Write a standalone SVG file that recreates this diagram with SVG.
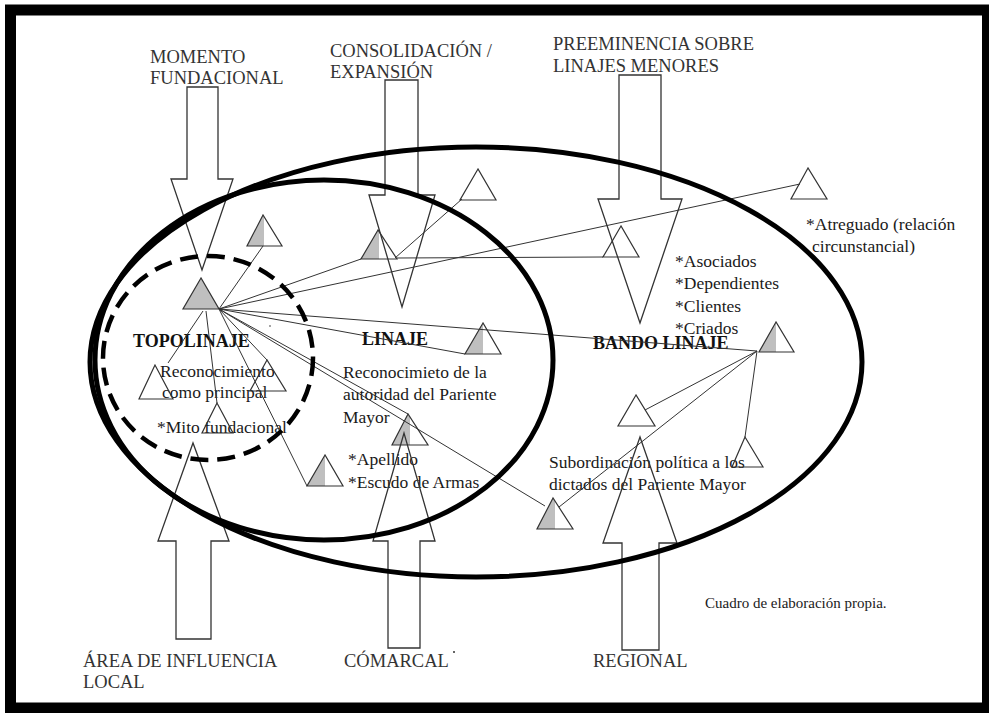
<svg xmlns="http://www.w3.org/2000/svg" width="989" height="713" viewBox="0 0 989 713">
<defs>
<style>
text{font-family:'Liberation Serif','DejaVu Serif',serif}
.lbl{font-size:18.5px;fill:#333}
.txt{font-size:17.5px;fill:#1a1a1a}
.b{font-weight:bold;fill:#111;font-size:18px}
.small{font-size:15px}
.arrow{fill:none;stroke:#333;stroke-width:1.3}
.tri{stroke:#333;stroke-width:1.2;fill:none}
.half{fill:url(#halfgray)}
.full{fill:#bfbfbf}
.ell{fill:none;stroke:#000;stroke-width:5}
.dash{stroke-dasharray:18 9;stroke-width:4.5}
#connectors line{stroke:#333;stroke-width:1}
</style>
<linearGradient id="halfgray" x1="0" y1="0" x2="1" y2="0">
<stop offset="0" stop-color="#bfbfbf"/>
<stop offset="0.5" stop-color="#bfbfbf"/>
<stop offset="0.5" stop-color="#fff" stop-opacity="0"/>
<stop offset="1" stop-color="#fff" stop-opacity="0"/>
</linearGradient>
</defs>
<rect x="0" y="0" width="989" height="713" fill="#fff"/>
<rect id="frame" x="10.5" y="10" width="977" height="698" fill="none" stroke="#000" stroke-width="11"/>

<g id="labels" font-family="Liberation Serif, serif">
<text class="lbl" x="150" y="63">MOMENTO</text>
<text class="lbl" x="150" y="84">FUNDACIONAL</text>
<text class="lbl" x="330" y="57">CONSOLIDACIÓN /</text>
<text class="lbl" x="330" y="78">EXPANSIÓN</text>
<text class="lbl" x="553" y="50">PREEMINENCIA SOBRE</text>
<text class="lbl" x="553" y="72">LINAJES MENORES</text>
<text class="lbl" x="83" y="667">ÁREA DE INFLUENCIA</text>
<text class="lbl" x="83" y="688">LOCAL</text>
<text class="lbl" x="344" y="667">CÓMARCAL</text>
<circle cx="454" cy="652" r="1" fill="#333"/>
<text class="lbl" x="593" y="667">REGIONAL</text>
<text class="txt small" x="705" y="608">Cuadro de elaboración propia.</text>
</g>

<g id="topolinaje-text" font-family="Liberation Serif, serif">
<text class="txt b" x="133" y="347">TOPOLINAJE</text>
<text class="txt" x="160" y="377">Reconocimiento</text>
<text class="txt" x="162" y="398">como principal</text>
<text class="txt" x="157" y="433">*Mito fundacional</text>
<circle cx="270" cy="326" r="0.8" fill="#333"/>
</g>
<g id="linaje-text" font-family="Liberation Serif, serif">
<text class="txt b" x="362" y="345">LINAJE</text>
<text class="txt" x="343" y="378">Reconocimieto de la</text>
<text class="txt" x="343" y="400">autoridad del Pariente</text>
<text class="txt" x="343" y="423">Mayor</text>
<text class="txt" x="348" y="465">*Apellido</text>
<text class="txt" x="348" y="488">*Escudo de Armas</text>
</g>
<g id="bando-text" font-family="Liberation Serif, serif">
<text class="txt b" x="593" y="349">BANDO LINAJE</text>
<text class="txt" x="675" y="267">*Asociados</text>
<text class="txt" x="675" y="289">*Dependientes</text>
<text class="txt" x="675" y="312">*Clientes</text>
<text class="txt" x="675" y="334">*Criados</text>
<text class="txt" x="806" y="230">*Atreguado (relación</text>
<text class="txt" x="812" y="252">circunstancial)</text>
<text class="txt" x="549" y="468">Subordinación política a los</text>
<text class="txt" x="549" y="490">dictados del Pariente Mayor</text>
</g>

<g id="triangles">
<polygon id="t1" class="tri full" points="201,278 183,309 219,309"/>
<polygon id="t2" class="tri half" points="263,215 247,246 282,246"/>
<polygon id="t3" class="tri half" points="378,230 361,259 397,259"/>
<polygon id="t4" class="tri" points="478,169 460,200 496,200"/>
<polygon id="t5" class="tri" points="621,226 603,257 639,257"/>
<polygon id="t6" class="tri" points="808,168 791,199 827,199"/>
<polygon id="t7" class="tri half" points="483,323 465,354 501,354"/>
<polygon id="t8" class="tri half" points="776,322 759,352 794,352"/>
<polygon id="t9" class="tri" points="636,395 618,426 655,426"/>
<polygon id="t10" class="tri" points="745,437 732,467 763,467"/>
<polygon id="t11" class="tri half" points="553,498 537,529 573,529"/>
<polygon id="t12" class="tri half" points="408,414 392,445 428,445"/>
<polygon id="t13" class="tri half" points="325,455 307,486 343,486"/>
<polygon id="t14" class="tri" points="155,365 139,399 173,399"/>
<polygon id="t15" class="tri" points="267,360 250,391 286,391"/>
<polygon id="t16" class="tri" points="217,403 202,433 233,433"/>
</g>

<g id="arrows">
<polygon id="arrow-momento" class="arrow" points="187,87 218,87 218,179 233,179 202,270 171,179 187,179"/>
<polygon id="arrow-consolidacion" class="arrow" points="385,80 418,80 418,195 435,195 402,307 369,195 385,195"/>
<polygon id="arrow-preeminencia" class="arrow" points="619,75 661,75 661,199 682,199 640,323 598,199 619,199"/>
<polygon id="arrow-area" class="arrow" points="176,639 211,639 211,541 229,541 193,443 158,541 176,541"/>
<polygon id="arrow-comarcal" class="arrow" points="388,648 420,648 420,541 435,541 404,433 373,541 388,541"/>
<polygon id="arrow-regional" class="arrow" points="622,650 659,650 659,543 677,543 640,437 603,543 622,543"/>
</g>

<g id="connectors">
<line x1="219" y1="309" x2="263" y2="246"/>
<line x1="219" y1="309" x2="361" y2="259"/>
<line x1="219" y1="309" x2="800" y2="184"/>
<line x1="397" y1="258" x2="603" y2="257"/>
<line x1="395" y1="258" x2="462" y2="199"/>
<line x1="219" y1="309" x2="465" y2="354"/>
<line x1="219" y1="309" x2="757" y2="351"/>
<line x1="219" y1="309" x2="545" y2="506"/>
<line x1="219" y1="309" x2="408" y2="414"/>
<line x1="219" y1="309" x2="267" y2="360"/>
<line x1="219" y1="309" x2="307" y2="486"/>
<line x1="203" y1="311" x2="168" y2="363"/>
<line x1="206" y1="311" x2="217" y2="403"/>
<line x1="757" y1="351" x2="645" y2="410"/>
<line x1="757" y1="351" x2="559" y2="507"/>
<line x1="757" y1="351" x2="745" y2="437"/>
</g>

<g id="ellipses">
<ellipse id="bando-linaje" class="ell" cx="476" cy="362" rx="386" ry="215"/>
<ellipse id="linaje" class="ell" cx="324" cy="360" rx="229" ry="180"/>
<ellipse id="topolinaje" class="ell dash" cx="208" cy="358" rx="105" ry="102"/>
</g>
</svg>
